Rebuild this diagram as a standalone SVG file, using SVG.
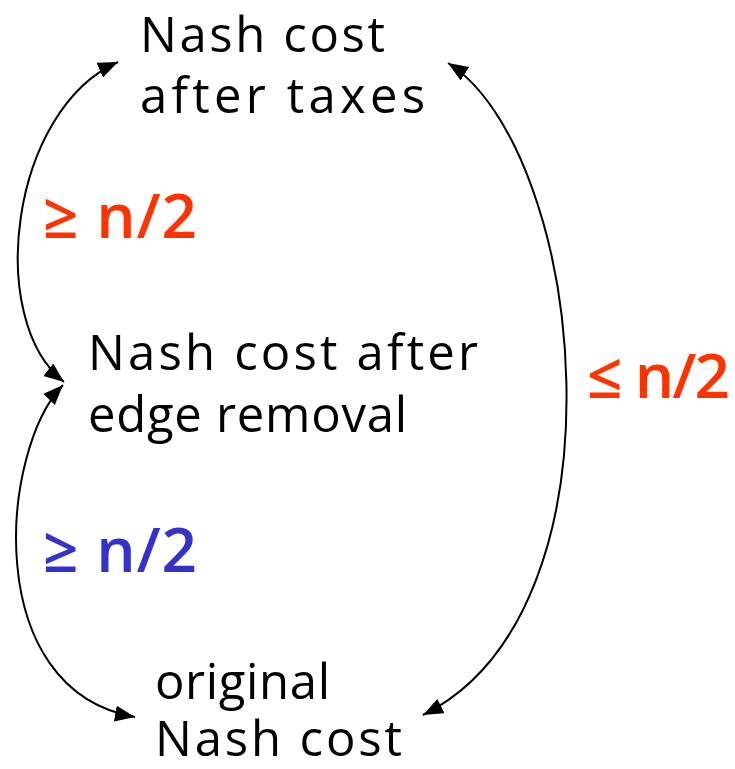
<svg xmlns="http://www.w3.org/2000/svg" width="735" height="769" viewBox="0 0 735 769">
<style>
.t{font-family:"Open Sans","Liberation Sans",sans-serif;font-size:49px;fill:#000}
.lbl{font-family:"Open Sans","Liberation Sans",sans-serif;font-size:62px;font-weight:600}
.red{fill:#FF3300}
.blue{fill:#3333CC}
.c{fill:none;stroke:#000;stroke-width:2}
</style>
<defs>
<marker id="ah" markerUnits="userSpaceOnUse" markerWidth="22" markerHeight="18" refX="20" refY="8" orient="auto-start-reverse">
<path d="M0,0 L20,8 L0,16 z" fill="#000"/>
</marker>
</defs>
<rect width="735" height="769" fill="#fff"/>
<g id="connectors">
<path class="c" d="M118,62 C10,110 -15,320 64,382" marker-start="url(#ah)" marker-end="url(#ah)"/>
<path class="c" d="M63,385 C0,450 -20,690 135,717" marker-start="url(#ah)" marker-end="url(#ah)"/>
<path class="c" d="M448,63 C585,150 635,610 423,715" marker-start="url(#ah)" marker-end="url(#ah)"/>
</g>
<g id="node-taxes">
<text class="t" x="140" y="52" textLength="245">Nash cost</text>
<text class="t" x="140" y="113" textLength="285">after taxes</text>
</g>
<g id="node-removal">
<text class="t" x="88" y="370" textLength="390">Nash cost after</text>
<text class="t" x="88" y="432" textLength="319">edge removal</text>
</g>
<g id="node-original">
<text class="t" x="155" y="699" textLength="175">original</text>
<text class="t" x="155" y="756" textLength="247">Nash cost</text>
</g>
<g id="label-top">
<text class="lbl red" x="43" y="238" textLength="154">≥ n/2</text>
</g>
<g id="label-bottom">
<text class="lbl blue" x="43" y="572" textLength="154">≥ n/2</text>
</g>
<g id="label-right">
<text class="lbl red" x="587" y="398" textLength="143">≤ n/2</text>
</g>
</svg>
